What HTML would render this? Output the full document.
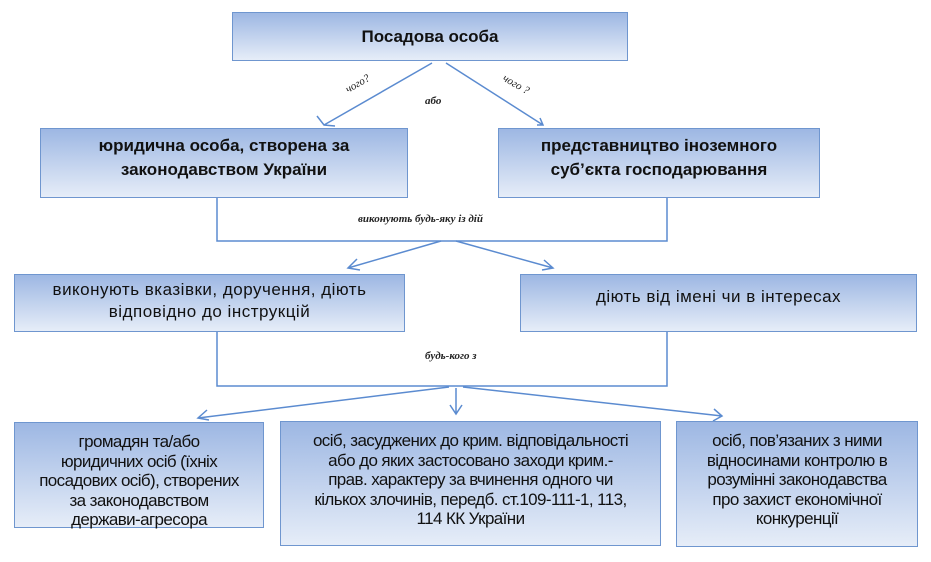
<!DOCTYPE html>
<html><head><meta charset="utf-8"><style>
body{margin:0;width:931px;height:562px;background:#fff;position:relative;overflow:hidden;font-family:"Liberation Sans",sans-serif;}
.b{position:absolute;box-sizing:border-box;border:1.5px solid #6f96cf;background:linear-gradient(#9db7e3,#e6edf8);display:flex;align-items:center;justify-content:center;text-align:center;color:#111;}
.bold{font-weight:bold;font-size:17px;line-height:24px;}
.mid{font-size:17px;line-height:22px;letter-spacing:0.5px;}
.sm{font-size:17px;line-height:19.5px;letter-spacing:-0.6px;align-items:flex-start;padding-top:9px;}
svg{position:absolute;left:0;top:0;}
.lbl{font-family:"Liberation Serif",serif;font-style:italic;font-size:11px;fill:#222;}
</style></head><body>
<svg width="931" height="562">
<g stroke="#5b8bd0" stroke-width="1.5" fill="none">
<path d="M432 63 L324 125 M317 116 L324 125 L335 126"/>
<path d="M446 63 L543 125 M537 125 L543 125 L540 118"/>
<path d="M217 197 V241 H667 V197"/>
<path d="M441 241 L348 268 M357 259 L348 268 L360 270"/>
<path d="M456 241 L553 268 M542 270 L553 268 L544 260"/>
<path d="M217 331 V386 H667 V331"/>
<path d="M449 387 L198 418 M207 410 L198 418 L209 420"/>
<path d="M456 388 V414 M450 405 L456 414 L462 405"/>
<path d="M463 387 L722 416 M713 421 L722 416 L714 409"/>
</g>
<text class="lbl" transform="translate(348,93) rotate(-30)">чого?</text>
<text class="lbl" transform="translate(502,80) rotate(30)">чого ?</text>
<text class="lbl" x="425" y="104" font-weight="bold">або</text>
<text class="lbl" x="358" y="222" font-weight="bold">виконують  будь-яку  із дій</text>
<text class="lbl" x="425" y="359" font-weight="bold">будь-кого  з</text>
</svg>
<div class="b bold" style="left:232px;top:12px;width:396px;height:49px;">Посадова особа</div>
<div class="b bold" style="left:40px;top:128px;width:368px;height:70px;padding-bottom:10px;">юридична особа, створена за<br>законодавством України</div>
<div class="b bold" style="left:498px;top:128px;width:322px;height:70px;padding-bottom:10px;">представництво іноземного<br>суб’єкта господарювання</div>
<div class="b mid" style="left:14px;top:274px;width:391px;height:58px;padding-bottom:4px;">виконують вказівки, доручення, діють<br>відповідно до інструкцій</div>
<div class="b mid" style="left:520px;top:274px;width:397px;height:58px;padding-bottom:12px;">діють від імені чи в інтересах</div>
<div class="b sm" style="left:14px;top:422px;width:250px;height:106px;">громадян та/або<br>юридичних осіб (їхніх<br>посадових осіб), створених<br>за  законодавством<br>держави-агресора</div>
<div class="b sm" style="left:280px;top:421px;width:381px;height:125px;">осіб, засуджених до крим. відповідальності<br>або до яких застосовано заходи крим.-<br>прав. характеру за вчинення одного чи<br>кількох злочинів, передб. ст.109-111-1, 113,<br>114 КК України</div>
<div class="b sm" style="left:676px;top:421px;width:242px;height:126px;">осіб, пов’язаних з ними<br>відносинами контролю в<br>розумінні законодавства<br>про захист економічної<br>конкуренції</div>
</body></html>
